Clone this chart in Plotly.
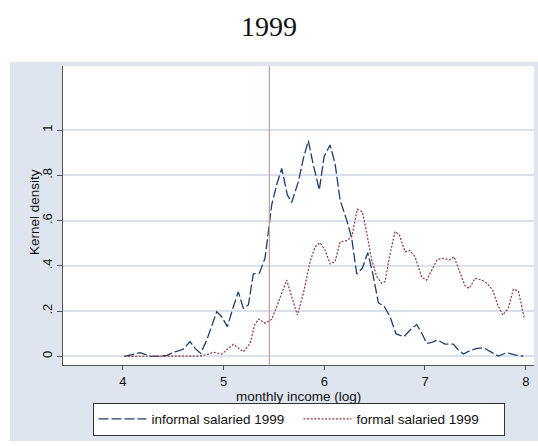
import plotly.graph_objects as go

# Data (kernel density estimates)
informal_x = [4.016, 4.172, 4.27, 4.37, 4.437, 4.52, 4.60, 4.668, 4.718, 4.774, 4.834, 4.883,
              4.933, 4.983, 5.038, 5.098, 5.147, 5.197, 5.247, 5.296, 5.356, 5.412, 5.445, 5.479,
              5.529, 5.578, 5.634, 5.677, 5.743, 5.793, 5.842, 5.892, 5.951, 5.998, 6.058, 6.107,
              6.157, 6.223, 6.273, 6.322, 6.378, 6.432, 6.481, 6.537, 6.597, 6.653, 6.713, 6.792,
              6.852, 6.918, 6.968, 7.017, 7.067, 7.123, 7.199, 7.282, 7.331, 7.381, 7.447, 7.514,
              7.579, 7.646, 7.728, 7.811, 7.894, 7.976]
informal_y = [0.000, 0.016, 0.001, 0.000, 0.004, 0.020, 0.031, 0.065, 0.035, 0.013, 0.072, 0.131,
              0.197, 0.175, 0.131, 0.219, 0.285, 0.212, 0.227, 0.364, 0.367, 0.433, 0.560, 0.670,
              0.760, 0.830, 0.713, 0.680, 0.772, 0.875, 0.953, 0.845, 0.735, 0.882, 0.934, 0.853,
              0.691, 0.602, 0.521, 0.364, 0.389, 0.458, 0.367, 0.237, 0.219, 0.175, 0.099, 0.087,
              0.116, 0.141, 0.102, 0.057, 0.062, 0.072, 0.054, 0.054, 0.028, 0.010, 0.025, 0.035,
              0.038, 0.020, 0.001, 0.016, 0.006, 0.001]

formal_x = [4.016, 4.40, 4.767, 4.85, 4.90, 4.983, 5.098, 5.131, 5.197, 5.264, 5.31, 5.35,
            5.412, 5.479, 5.561, 5.628, 5.677, 5.733, 5.793, 5.859, 5.909, 5.958, 6.008, 6.058,
            6.107, 6.157, 6.223, 6.273, 6.328, 6.378, 6.422, 6.471, 6.521, 6.571, 6.604, 6.647,
            6.703, 6.746, 6.802, 6.852, 6.901, 6.968, 7.017, 7.067, 7.123, 7.182, 7.242, 7.288,
            7.341, 7.398, 7.44, 7.497, 7.563, 7.613, 7.672, 7.722, 7.772, 7.827, 7.877, 7.927,
            7.983]
formal_y = [0.000, 0.000, 0.001, 0.010, 0.018, 0.010, 0.053, 0.042, 0.020, 0.057, 0.140, 0.165,
            0.146, 0.163, 0.263, 0.337, 0.263, 0.182, 0.278, 0.418, 0.484, 0.502, 0.470, 0.408,
            0.418, 0.506, 0.511, 0.528, 0.650, 0.639, 0.544, 0.426, 0.352, 0.323, 0.330, 0.440,
            0.551, 0.536, 0.462, 0.467, 0.440, 0.349, 0.337, 0.381, 0.429, 0.433, 0.426, 0.440,
            0.381, 0.311, 0.300, 0.345, 0.337, 0.323, 0.293, 0.227, 0.182, 0.212, 0.296, 0.290,
            0.172]

cutoff_x = 5.455

x_ticks = [4, 5, 6, 7, 8]
y_ticks = [0, 0.2, 0.4, 0.6, 0.8, 1]
y_ticktext = ["0", ".2", ".4", ".6", ".8", "1"]

NAVY = "#1A3F6F"
MAROON = "#90353B"
PANEL = "#DFE5EF"
GRID = "#D9E1EC"
AXIS = "#555555"
TXT = "#111111"

fig = go.Figure()
fig.add_trace(go.Scatter(x=informal_x, y=informal_y, mode="lines",
                         name="informal salaried 1999",
                         line=dict(color=NAVY, width=1.3, dash="10px,3px")))
fig.add_trace(go.Scatter(x=formal_x, y=formal_y, mode="lines",
                         name="formal salaried 1999",
                         line=dict(color=MAROON, width=1.2, dash="2px,1.6px")))

L, R, T, B = 63, 4, 66, 81
W, H = 538, 446
pw, ph = W - L - R, H - T - B

def px_x(p):
    return (p - L) / pw

def px_y(p):
    return (H - B - p) / ph

white = dict(type="rect", xref="paper", yref="paper", fillcolor="white",
             line=dict(width=0), layer="below")
shapes = [
    dict(white, x0=px_x(-5), x1=px_x(545), y0=px_y(62), y1=px_y(-5)),   # top strip
    dict(white, x0=px_x(-5), x1=px_x(10), y0=px_y(450), y1=px_y(62)),   # left strip
    dict(white, x0=px_x(-5), x1=px_x(545), y0=px_y(450), y1=px_y(441)), # bottom strip
    dict(type="line", xref="x", yref="paper", x0=cutoff_x, x1=cutoff_x, y0=0, y1=1,
         line=dict(color="#C39C98", width=1.2), layer="above"),
]

annotations = [
    dict(text="1999", xref="paper", yref="paper", x=px_x(269), y=px_y(26),
         xanchor="center", yanchor="middle", showarrow=False,
         font=dict(family="Liberation Serif", size=28, color=TXT)),
    dict(text="monthly income (log)", xref="paper", yref="paper", x=0.5, y=px_y(396),
         xanchor="center", yanchor="middle", showarrow=False,
         font=dict(family="Liberation Sans", size=13.5, color=TXT)),
    dict(text="Kernel density", xref="paper", yref="paper", x=px_x(34), y=px_y(212),
         xanchor="center", yanchor="middle", showarrow=False, textangle=-90,
         font=dict(family="Liberation Sans", size=13.5, color=TXT)),
]

fig.update_layout(
    width=W, height=H,
    margin=dict(l=L, r=R, t=T, b=B, autoexpand=False),
    paper_bgcolor=PANEL,
    plot_bgcolor="white",
    shapes=shapes,
    annotations=annotations,
    font=dict(family="Liberation Sans", size=13, color=TXT),
    showlegend=True,
    legend=dict(orientation="h", x=0.5, xanchor="center", y=px_y(419), yanchor="middle",
                bgcolor="white", bordercolor="#333333", borderwidth=1,
                font=dict(family="Liberation Sans", size=13.5, color=TXT),
                itemwidth=48, entrywidth=142, tracegroupgap=0),
)

fig.update_xaxes(range=[3.407, 8.082], tickvals=x_ticks, ticktext=[str(v) for v in x_ticks],
                 showgrid=False, zeroline=False, showline=True, linecolor=AXIS, linewidth=1.2,
                 ticks="outside", ticklen=4, tickcolor=AXIS, tickwidth=1.2,
                 tickfont=dict(family="Liberation Sans", size=13, color=TXT))
fig.update_yaxes(range=[-0.0384, 1.283], tickvals=y_ticks, ticktext=y_ticktext, tickangle=-90,
                 showgrid=True, gridcolor=GRID, gridwidth=1.6, zeroline=False,
                 showline=True, linecolor=AXIS, linewidth=1.2,
                 ticks="outside", ticklen=5, tickcolor=AXIS, tickwidth=1.2,
                 tickfont=dict(family="Liberation Sans", size=13, color=TXT))

fig.write_html("out.html", config={"displayModeBar": False},
               post_script="document.body.style.margin='0';document.body.style.overflow='hidden';")
